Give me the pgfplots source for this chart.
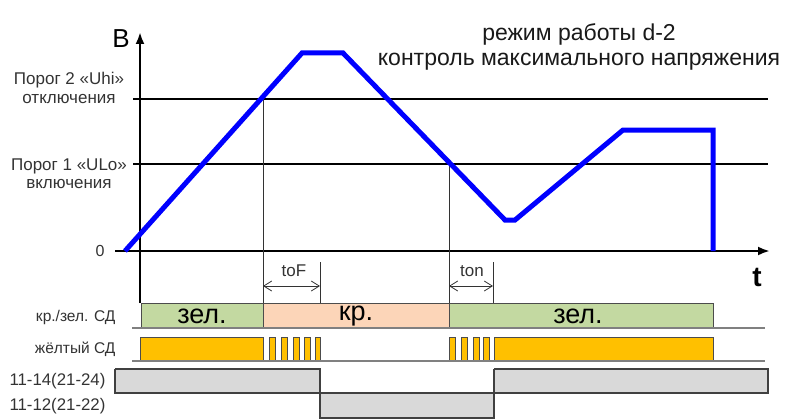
\documentclass[border=0pt]{standalone}
\usepackage{fontspec}
\setmainfont{Liberation Sans}
\usepackage{pgfplots}
\pgfplotsset{compat=1.18}
\usetikzlibrary{arrows.meta}
\definecolor{sigblue}{HTML}{0000FF}
\definecolor{ledgreen}{HTML}{C3D9A1}
\definecolor{ledpink}{HTML}{FCD5B8}
\definecolor{ledyellow}{HTML}{FFC000}
\definecolor{relgray}{HTML}{D9D9D9}
\definecolor{txt}{HTML}{333333}
\newcommand{\fs}[1]{\fontsize{#1bp}{1.2\dimexpr#1bp\relax}\selectfont}
\begin{document}
\begin{tikzpicture}
\begin{axis}[width=790bp,height=419bp,scale only axis,
  xmin=0,xmax=790,ymin=0,ymax=419,y dir=reverse,hide axis,clip=false]
% bounding box
\addplot[draw=none] coordinates {(0,0)(790,419)};
% threshold lines
\addplot[black,line width=2.5bp] coordinates {(133,99)(768,99)};
\addplot[black,line width=2.5bp] coordinates {(133,164)(768,164)};
% axes
\addplot[black,line width=2.5bp,-{Latex[length=12bp,width=9bp]}] coordinates {(115,251)(770,251)};
\addplot[black,line width=2.5bp,-{Latex[length=12bp,width=9bp]}] coordinates {(140,303)(140,32)};
% thin verticals
\addplot[black!80,line width=0.8bp] coordinates {(263,99)(263,303)};
\addplot[black!80,line width=0.8bp] coordinates {(320,262)(320,303)};
\addplot[black!80,line width=0.8bp] coordinates {(449,164)(449,303)};
\addplot[black!80,line width=0.8bp] coordinates {(493,262)(493,303)};
% time arrows
\addplot[black!80,line width=0.8bp,{Straight Barb[length=8bp,width=10bp]}-{Straight Barb[length=8bp,width=10bp]}] coordinates {(263,286)(320,286)};
\addplot[black!80,line width=0.8bp,{Straight Barb[length=8bp,width=10bp]}-{Straight Barb[length=8bp,width=10bp]}] coordinates {(449,286)(493,286)};
% signal
\addplot[sigblue,line width=5bp] coordinates {(125,251)(302,53)(343,53)(505,220)(515,220)(623,130)(713,130)(713,251)};
% row 1: red/green LED
\addplot[fill=ledgreen,draw=black!70,line width=0.8bp] coordinates {(141,303)(263,303)(263,328)(141,328)(141,303)};
\addplot[fill=ledpink,draw=black!70,line width=0.8bp] coordinates {(263,303)(449,303)(449,328)(263,328)(263,303)};
\addplot[fill=ledgreen,draw=black!70,line width=0.8bp] coordinates {(449,303)(713,303)(713,328)(449,328)(449,303)};
\addplot[black!50,line width=1.8bp] coordinates {(132,328)(765,328)};
% row 2: yellow LED
\addplot[fill=ledyellow,draw=black!70,line width=0.8bp] coordinates {(140,337)(263,337)(263,361)(140,361)(140,337)};
\addplot[fill=ledyellow,draw=black!70,line width=0.8bp] coordinates {(269,337)(275,337)(275,361)(269,361)(269,337)};
\addplot[fill=ledyellow,draw=black!70,line width=0.8bp] coordinates {(281,337)(287,337)(287,361)(281,361)(281,337)};
\addplot[fill=ledyellow,draw=black!70,line width=0.8bp] coordinates {(293,337)(299,337)(299,361)(293,361)(293,337)};
\addplot[fill=ledyellow,draw=black!70,line width=0.8bp] coordinates {(304,337)(310,337)(310,361)(304,361)(304,337)};
\addplot[fill=ledyellow,draw=black!70,line width=0.8bp] coordinates {(315,337)(320,337)(320,361)(315,361)(315,337)};
\addplot[fill=ledyellow,draw=black!70,line width=0.8bp] coordinates {(449,337)(455,337)(455,361)(449,361)(449,337)};
\addplot[fill=ledyellow,draw=black!70,line width=0.8bp] coordinates {(461,337)(467,337)(467,361)(461,361)(461,337)};
\addplot[fill=ledyellow,draw=black!70,line width=0.8bp] coordinates {(473,337)(479,337)(479,361)(473,361)(473,337)};
\addplot[fill=ledyellow,draw=black!70,line width=0.8bp] coordinates {(483,337)(489,337)(489,361)(483,361)(483,337)};
\addplot[fill=ledyellow,draw=black!70,line width=0.8bp] coordinates {(494,337)(713,337)(713,361)(494,361)(494,337)};
\addplot[black!50,line width=1.8bp] coordinates {(132,361)(765,361)};
% rows 3-4: relay contacts
\addplot[fill=relgray,draw=black!75,line width=1.2bp] coordinates {(115,369)(320,369)(320,393)(115,393)(115,369)};
\addplot[fill=relgray,draw=black!75,line width=1.2bp] coordinates {(494,369)(768,369)(768,393)(494,393)(494,369)};
\addplot[fill=relgray,draw=black!75,line width=1.2bp] coordinates {(320,393)(494,393)(494,418)(320,418)(320,393)};
% texts
\node[font=\fs{26}] at (121,39) {B};
\node[font=\fs{28}\bfseries] at (757,277) {t};
\node[font=\fs{23},align=center,text=black!90] at (579,47) {режим работы d-2\\[-3bp]контроль максимального напряжения};
\node[font=\fs{17},align=center,text=txt] at (69,88) {Порог 2 «Uhi»\\[-2bp]отключения};
\node[font=\fs{17},align=center,text=txt] at (69,174) {Порог 1 «ULo»\\[-2bp]включения};
\node[font=\fs{16},text=txt] at (100,251) {0};
\node[font=\fs{17},text=txt] at (294,271) {toF};
\node[font=\fs{17},text=txt] at (472,271) {ton};
\node[font=\fs{27}] at (202,316) {зел.};
\node[font=\fs{27}] at (356,316) {кр.};
\node[font=\fs{27}] at (578,316) {зел.};
\node[font=\fs{15.5},text=txt,anchor=east] at (119,317) {кр./зел. СД};
\node[font=\fs{15.5},text=txt,anchor=east] at (119,349) {жёлтый СД};
\node[font=\fs{16.8},text=txt,anchor=west] at (6,381) {11-14(21-24)};
\node[font=\fs{16.8},text=txt,anchor=west] at (6,406) {11-12(21-22)};
\end{axis}
\end{tikzpicture}
\end{document}
